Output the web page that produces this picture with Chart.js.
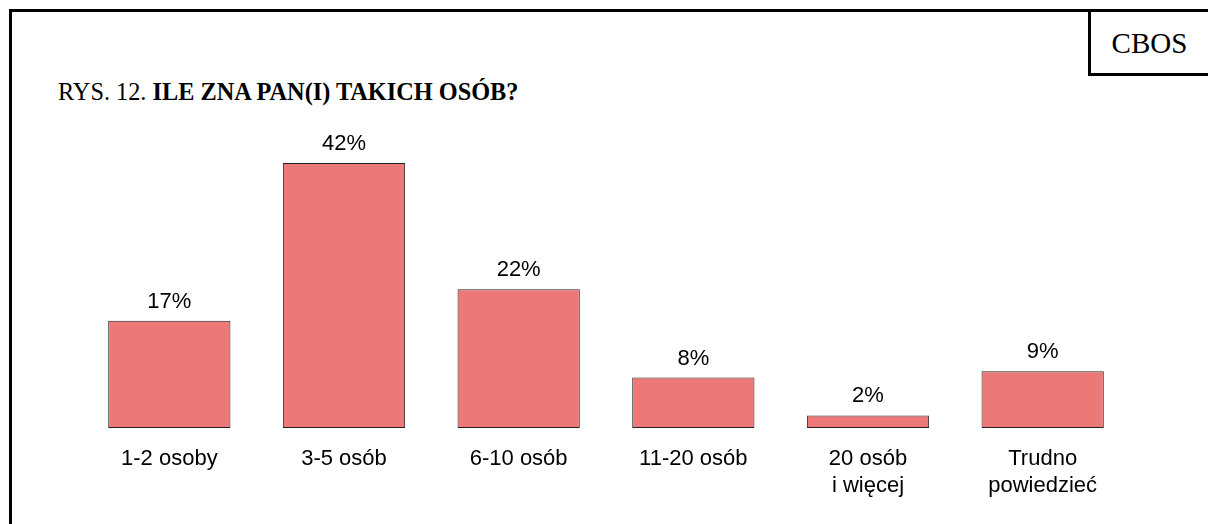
<!DOCTYPE html>
<html>
<head>
<meta charset="utf-8">
<script src="https://cdn.jsdelivr.net/npm/chart.js@4"></script>
<style>
    body { margin: 0; background: #fff; width: 1208px; height: 524px; overflow: hidden; position: relative; }
    #frame { position: absolute; left: 9px; top: 9px; width: 1400px; height: 700px; border: 3px solid #000; }
    #cbosBox { position: absolute; left: 1088px; top: 9px; width: 200px; height: 61px; border: 3px solid #000; }
    #cbos { position: absolute; left: 1091px; top: 27px; width: 117px; text-align: center;
            font-family: "Liberation Serif", "Times New Roman", serif; font-size: 29px; line-height: 32px; }
    #title { position: absolute; left: 58px; top: 80px; white-space: nowrap;
             font-family: "Liberation Serif", "Times New Roman", serif; font-size: 24.3px; line-height: 24px; }
    #chart { position: absolute; left: 0; top: 0; }
</style>
</head>
<body>
<div id="frame"></div>
<div id="cbosBox"></div>
<div id="cbos">CBOS</div>
<div id="title">RYS. 12. <b>ILE ZNA PAN(I) TAKICH OSÓB?</b></div>
<canvas id="chart" width="1208" height="524"></canvas>
<script>
// ============================
// Dane wykresu
// ============================
const kategorie = [
    "1-2 osoby",
    "3-5 osób",
    "6-10 osób",
    "11-20 osób",
    ["20 osób", "i więcej"],
    ["Trudno", "powiedzieć"]
];
const wartosci = [17, 42, 22, 8, 2, 9];
const etykiety = ["17%", "42%", "22%", "8%", "2%", "9%"];

// ============================
// Etykiety wartości nad słupkami
// ============================
const valueLabels = {
    id: "valueLabels",
    afterDatasetsDraw(chart) {
        const ctx = chart.ctx;
        const meta = chart.getDatasetMeta(0);
        ctx.save();
        ctx.font = "22px 'Liberation Sans', Arial, sans-serif";
        ctx.fillStyle = "#000";
        ctx.textAlign = "center";
        ctx.textBaseline = "alphabetic";
        meta.data.forEach((bar, i) => {
            ctx.fillText(etykiety[i], bar.x, bar.y - 13);
        });
        ctx.restore();
    }
};

// ============================
// Wykres
// ============================
new Chart(document.getElementById("chart"), {
    type: "bar",
    data: {
        labels: kategorie,
        datasets: [{
            data: wartosci,
            backgroundColor: "#ED7878",
            borderColor: "#222",
            borderWidth: 1,
            borderSkipped: false,
            barPercentage: 0.7,
            categoryPercentage: 1.0
        }]
    },
    options: {
        responsive: false,
        animation: false,
        layout: { padding: { left: 82, right: 78, top: 144, bottom: 7 } },
        plugins: {
            legend: { display: false },
            tooltip: { enabled: false }
        },
        scales: {
            y: { display: false, min: 0, max: 45 },
            x: {
                grid: { display: false, drawTicks: false },
                border: { display: false },
                ticks: {
                    padding: 17,
                    color: "#000",
                    font: { family: "'Liberation Sans', Arial, sans-serif", size: 22, lineHeight: 1.25 }
                }
            }
        }
    },
    plugins: [valueLabels]
});
</script>
</body>
</html>
